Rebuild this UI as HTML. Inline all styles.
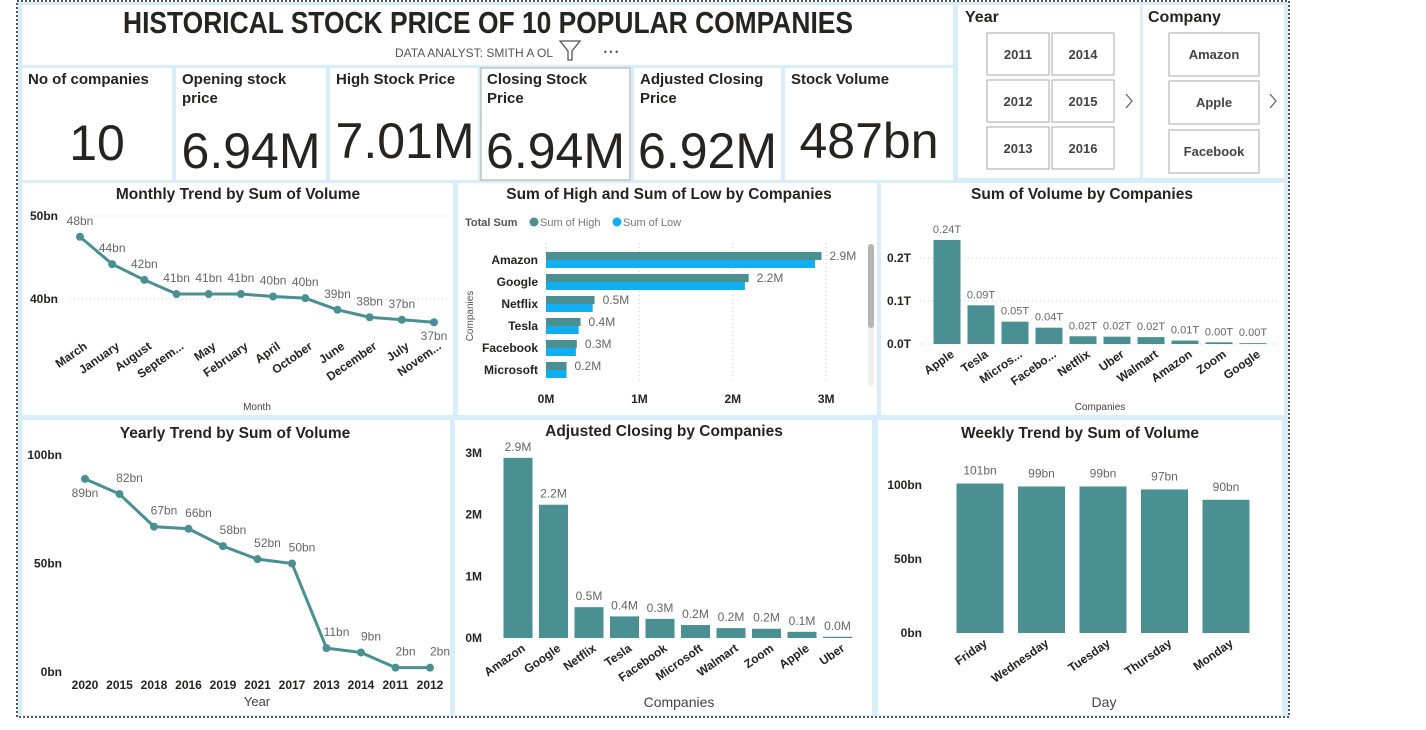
<!DOCTYPE html>
<html><head><meta charset="utf-8"><style>
body{margin:0;background:#fff;width:1426px;height:725px;overflow:hidden;font-family:"Liberation Sans Narrow","Liberation Sans",sans-serif}
svg text{font-family:"Liberation Sans Narrow","Liberation Sans",sans-serif}
</style></head><body>
<svg id="s" width="1426" height="725" xmlns="http://www.w3.org/2000/svg">
<rect x="18" y="2" width="1270" height="714" fill="#d7edfa"/>
<rect x="17" y="1" width="1272" height="716" fill="none" stroke="#555" stroke-width="2" stroke-dasharray="2 2"/>
<g id="panels"></g>
<g id="content"></g>
</svg>
<script>
// ---- data ----
const monthCats=["March","January","August","Septem...","May","February","April","October","June","December","July","Novem..."];
const monthVals=[47.5,44.2,42.3,40.6,40.6,40.6,40.3,40.1,38.7,37.8,37.5,37.2];
const monthLabels=["48bn","44bn","42bn","41bn","41bn","41bn","40bn","40bn","39bn","38bn","37bn","37bn"];
const yearCats=["2020","2015","2018","2016","2019","2021","2017","2013","2014","2011","2012"];
const yearVals=[89,82,67,66,58,52,50,11,9,2,2];
const yearLabels=["89bn","82bn","67bn","66bn","58bn","52bn","50bn","11bn","9bn","2bn","2bn"];
const hlCats=["Amazon","Google","Netflix","Tesla","Facebook","Microsoft"];
const highVals=[2.95,2.17,0.52,0.37,0.33,0.22];
const lowVals=[2.88,2.13,0.50,0.35,0.32,0.22];
const hlLabels=["2.9M","2.2M","0.5M","0.4M","0.3M","0.2M"];
const volCats=["Apple","Tesla","Micros...","Facebo...","Netflix","Uber","Walmart","Amazon","Zoom","Google"];
const volVals=[0.242,0.090,0.052,0.038,0.018,0.017,0.016,0.008,0.004,0.002];
const volLabels=["0.24T","0.09T","0.05T","0.04T","0.02T","0.02T","0.02T","0.01T","0.00T","0.00T"];
const adjCats=["Amazon","Google","Netflix","Tesla","Facebook","Microsoft","Walmart","Zoom","Apple","Uber"];
const adjVals=[2.92,2.16,0.50,0.35,0.31,0.21,0.16,0.15,0.10,0.02];
const adjLabels=["2.9M","2.2M","0.5M","0.4M","0.3M","0.2M","0.2M","0.2M","0.1M","0.0M"];
const weekCats=["Friday","Wednesday","Tuesday","Thursday","Monday"];
const weekVals=[101,99,99,97,90];
const weekLabels=["101bn","99bn","99bn","97bn","90bn"];

const NS="http://www.w3.org/2000/svg";
const P=document.getElementById('panels'),C=document.getElementById('content');
function el(tag,attrs,parent,txt){const e=document.createElementNS(NS,tag);for(const k in attrs)e.setAttribute(k,attrs[k]);if(txt!==undefined)e.textContent=txt;(parent||C).appendChild(e);return e;}
function panel(x,y,w,h,name,stroke){const r=el('rect',{x,y,width:w,height:h,fill:'#fff',stroke:stroke||'none'},P);

}
function txt(x,y,s,size,opt,name,inter){const t=el('text',Object.assign({x,y,'font-size':size,fill:'#252423'},opt||{}),C,s);

return t;}
const TEAL='#4a9093',BLUE='#13adf2';

// panels
panel(22,5,931,60,'title-panel');
const cards=[[22,150,'No of companies','','10','companies-card'],[176,150,'Opening stock','price','6.94M','opening-card'],[330,148,'High Stock Price','','7.01M','high-card'],[481,149,'Closing Stock','Price','6.94M','closing-card'],[634,147,'Adjusted Closing','Price','6.92M','adjusted-card'],[785,168,'Stock Volume','','487bn','volume-card']];
cards.forEach(c=>panel(c[0],68,c[1],112,c[5],c[5]=='closing-card'?'#aaa':null));
panel(958,5,182,173,'year-slicer');panel(1143,5,141,173,'company-slicer');
panel(22,183,431,232,'monthly-trend-panel');panel(458,183,419,232,'high-low-panel');panel(881,183,403,232,'volume-companies-panel');
panel(22,420,428,295,'yearly-trend-panel');panel(455,420,417,295,'adjusted-closing-panel');panel(878,420,404,295,'weekly-trend-panel');

// title
txt(488,33,'HISTORICAL STOCK PRICE OF 10 POPULAR COMPANIES',31,{'text-anchor':'middle','font-weight':'bold','textLength':730,'lengthAdjust':'spacingAndGlyphs'},'dashboard-title');
txt(474,57,'DATA ANALYST: SMITH A OL',12,{'text-anchor':'middle',fill:'#555'},'subtitle');
el('path',{d:'M560 41 L580 41 L572 51 L572 60 L568 60 L568 51 Z',fill:'none',stroke:'#555','stroke-width':1.3});
txt(611,55,'• • •',9,{'text-anchor':'middle',fill:'#555'},'more-options',true);
// cards
cards.forEach(c=>{txt(c[0]+6,84,c[2],15,{'font-weight':'bold'},c[5]+'-title');if(c[3])txt(c[0]+6,103,c[3],15,{'font-weight':'bold'},c[5]+'-title2');
const big=c[5]=='companies-card'?[97,160]:c[5]=='high-card'?[405,158]:c[5]=='volume-card'?[869,158]:[c[0]+c[1]/2,168];
txt(big[0],big[1],c[4],50,{'text-anchor':'middle'},c[5]+'-value');});
// slicers
txt(965,22,'Year',16,{'font-weight':'bold'},'year-slicer-title');txt(1148,22,'Company',16,{'font-weight':'bold'},'company-slicer-title');
[['2011',987,33],['2014',1052,33],['2012',987,80],['2015',1052,80],['2013',987,127],['2016',1052,127]].forEach(b=>{
const r=el('rect',{x:b[1],y:b[2],width:62,height:42,fill:'#fff',stroke:'#aaa'});


txt(b[1]+31,b[2]+26,b[0],13,{'text-anchor':'middle',fill:'#444','font-weight':'bold'},'year-'+b[0]+'-label',true);});
[['Amazon',33],['Apple',81],['Facebook',130]].forEach(b=>{
const r=el('rect',{x:1169,y:b[1],width:90,height:43,fill:'#fff',stroke:'#aaa'});


txt(1214,b[1]+26,b[0],13,{'text-anchor':'middle',fill:'#444','font-weight':'bold'},'company-'+b[0].toLowerCase()+'-label',true);});
[[1129,'year-next-arrow'],[1273,'company-next-arrow']].forEach(a=>{const p=el('path',{d:`M${a[0]-3} 94 L${a[0]+3} 101 L${a[0]-3} 108`,fill:'none',stroke:'#666','stroke-width':1.3});

});

function grid(x1,x2,y,name){const l=el('line',{x1,x2,y1:y,y2:y,stroke:'#ccc','stroke-dasharray':'1 3'});

}
function rotLabel(x,y,s,name){const t=txt(x,y,s,12,{'text-anchor':'end','font-weight':'bold',transform:`rotate(-35 ${x} ${y})`},name);return t;}

// Monthly
txt(238,199,'Monthly Trend by Sum of Volume',15.5,{'text-anchor':'middle','font-weight':'bold'},'monthly-title');
{const x0=80,dx=(434-80)/(monthCats.length-1),y=v=>216+(50-v)*8.3;
[[50,'50bn'],[40,'40bn']].forEach(t=>{grid(70,450,y(t[0]),'monthly-gridline');txt(58,y(t[0])+4,t[1],12,{'text-anchor':'end','font-weight':'bold'},'monthly-y-tick');});
const pts=monthVals.map((v,i)=>[x0+i*dx,y(v)]);
const pl=el('polyline',{points:pts.map(p=>p.join(',')).join(' '),fill:'none',stroke:TEAL,'stroke-width':3});


pts.forEach((p,i)=>{const c=el('circle',{cx:p[0],cy:p[1],r:4,fill:TEAL});


const last=i==pts.length-1;txt(p[0],last?p[1]+18:p[1]-12,monthLabels[i],12,{'text-anchor':'middle',fill:'#666'},'monthly-data-label');
rotLabel(p[0]+8,348,monthCats[i],'monthly-x-tick');});
txt(257,410,'Month',10,{'text-anchor':'middle',fill:'#444'},'monthly-x-title');}

// High / Low
txt(669,199,'Sum of High and Sum of Low by Companies',15.5,{'text-anchor':'middle','font-weight':'bold'},'high-low-title');
txt(465,226,'Total Sum',11,{'font-weight':'bold',fill:'#555'},'legend-title');
el('circle',{cx:534,cy:222,r:4.5,fill:TEAL});
txt(540,226,'Sum of High',11,{fill:'#777'},'legend-high');
el('circle',{cx:617,cy:222,r:4.5,fill:BLUE});
txt(623,226,'Sum of Low',11,{fill:'#777'},'legend-low');
{const x=v=>546+v*93.4;
[0,1,2,3].forEach(t=>{const l=el('line',{x1:x(t),x2:x(t),y1:243,y2:382,stroke:'#ccc','stroke-dasharray':'1 3'});

txt(x(t),403,t+'M',12,{'text-anchor':'middle','font-weight':'bold'},'high-low-x-tick');});
hlCats.forEach((c,i)=>{const cy=260+i*22;
const h=el('rect',{x:546,y:cy-8,width:x(highVals[i])-546,height:8,fill:TEAL});


const l=el('rect',{x:546,y:cy,width:x(lowVals[i])-546,height:8,fill:BLUE});


txt(538,cy+4,c,12,{'text-anchor':'end','font-weight':'bold'},'high-low-y-tick');
txt(x(highVals[i])+8,cy,hlLabels[i],12,{fill:'#666'},'high-low-data-label');});
txt(473,316,'Companies',10,{'text-anchor':'middle',fill:'#555',transform:'rotate(-90 473 316)'},'high-low-y-title');
const sb=el('rect',{x:868,y:244,width:6,height:142,rx:3,fill:'#eee'});
const st=el('rect',{x:868,y:244,width:6,height:84,rx:3,fill:'#b5b5b5'});}

// Volume by companies
txt(1082,199,'Sum of Volume by Companies',15.5,{'text-anchor':'middle','font-weight':'bold'},'volume-companies-title');
{const y=v=>344-v*430;
[[0.2,'0.2T'],[0.1,'0.1T'],[0,'0.0T']].forEach(t=>{grid(920,1280,y(t[0]),'volume-gridline');txt(911,y(t[0])+4,t[1],12,{'text-anchor':'end','font-weight':'bold'},'volume-y-tick');});
volCats.forEach((c,i)=>{const cx=947+i*34;const b=el('rect',{x:cx-13.5,y:y(volVals[i]),width:27,height:344-y(volVals[i]),fill:TEAL});


txt(cx,y(volVals[i])-7,volLabels[i],11,{'text-anchor':'middle',fill:'#666'},'volume-data-label');
rotLabel(cx+8,356,c,'volume-x-tick');});
txt(1100,410,'Companies',10,{'text-anchor':'middle',fill:'#444'},'volume-x-title');}

// Yearly
txt(235,438,'Yearly Trend by Sum of Volume',15.5,{'text-anchor':'middle','font-weight':'bold'},'yearly-title');
{const x0=85,dx=(430-85)/(yearCats.length-1),y=v=>672-v*2.17;
[[100,'100bn'],[50,'50bn'],[0,'0bn']].forEach(t=>{txt(62,y(t[0])+4,t[1],12,{'text-anchor':'end','font-weight':'bold'},'yearly-y-tick');});
const pts=yearVals.map((v,i)=>[x0+i*dx,y(v)]);
const pl=el('polyline',{points:pts.map(p=>p.join(',')).join(' '),fill:'none',stroke:TEAL,'stroke-width':3});


pts.forEach((p,i)=>{const c=el('circle',{cx:p[0],cy:p[1],r:4,fill:TEAL});


const off=i==0?[0,18]:[10,-12];txt(p[0]+off[0],p[1]+off[1],yearLabels[i],12,{'text-anchor':'middle',fill:'#666'},'yearly-data-label');
txt(p[0],689,yearCats[i],12,{'text-anchor':'middle','font-weight':'bold'},'yearly-x-tick');});
txt(257,706,'Year',13,{'text-anchor':'middle',fill:'#444'},'yearly-x-title');}

// Adjusted
txt(664,436,'Adjusted Closing by Companies',15.5,{'text-anchor':'middle','font-weight':'bold'},'adjusted-title');
{const y=v=>638-v*61.7;
[[3,'3M'],[2,'2M'],[1,'1M'],[0,'0M']].forEach(t=>{txt(482,y(t[0])+4,t[1],12,{'text-anchor':'end','font-weight':'bold'},'adjusted-y-tick');});
adjCats.forEach((c,i)=>{const cx=518+i*35.5;const b=el('rect',{x:cx-14.5,y:y(adjVals[i]),width:29,height:638-y(adjVals[i]),fill:TEAL});


txt(cx,y(adjVals[i])-7,adjLabels[i],12,{'text-anchor':'middle',fill:'#666'},'adjusted-data-label');
rotLabel(cx+8,650,c,'adjusted-x-tick');});
txt(679,707,'Companies',14,{'text-anchor':'middle',fill:'#444'},'adjusted-x-title');}

// Weekly
txt(1080,438,'Weekly Trend by Sum of Volume',15.5,{'text-anchor':'middle','font-weight':'bold'},'weekly-title');
{const y=v=>633-v*1.48;
[[100,'100bn'],[50,'50bn'],[0,'0bn']].forEach(t=>{txt(922,y(t[0])+4,t[1],12,{'text-anchor':'end','font-weight':'bold'},'weekly-y-tick');});
weekCats.forEach((c,i)=>{const cx=980+i*61.5;const b=el('rect',{x:cx-23.5,y:y(weekVals[i]),width:47,height:633-y(weekVals[i]),fill:TEAL});


txt(cx,y(weekVals[i])-9,weekLabels[i],12,{'text-anchor':'middle',fill:'#666'},'weekly-data-label');
rotLabel(cx+8,645,c,'weekly-x-tick');});
txt(1104,707,'Day',14,{'text-anchor':'middle',fill:'#444'},'weekly-x-title');}
</script>
</body></html>
